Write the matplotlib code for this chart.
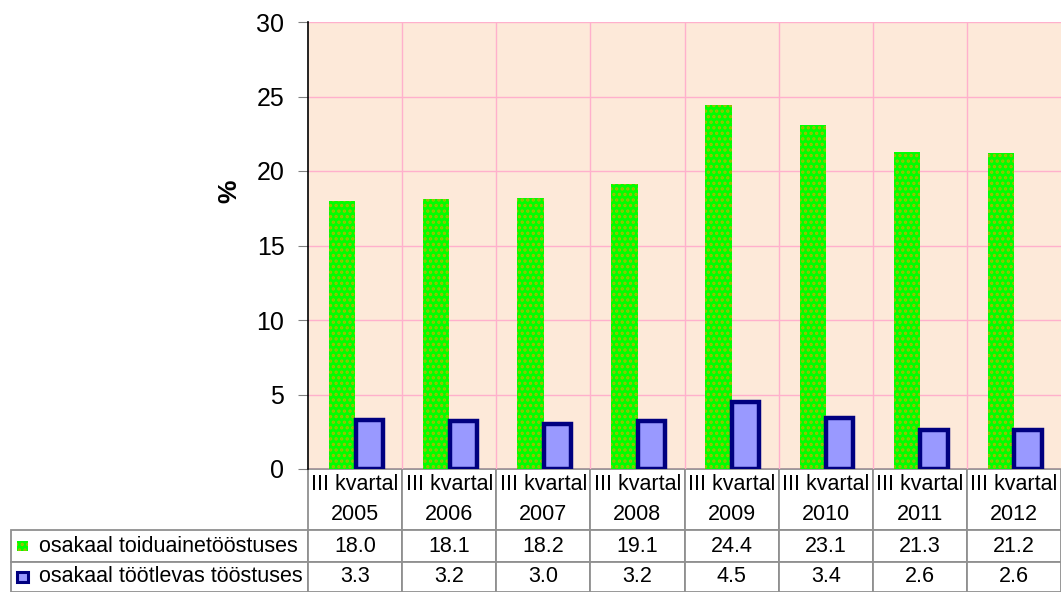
import matplotlib.pyplot as plt
from matplotlib.patches import Rectangle

plt.rcParams['font.family'] = ['Liberation Sans', 'DejaVu Sans']
plt.rcParams['hatch.linewidth'] = 1.6

years = ['2005', '2006', '2007', '2008', '2009', '2010', '2011', '2012']
food_share = [18.0, 18.1, 18.2, 19.1, 24.4, 23.1, 21.3, 21.2]
manuf_share = [3.3, 3.2, 3.0, 3.2, 4.5, 3.4, 2.6, 2.6]
series_names = ['osakaal toiduainetööstuses', 'osakaal töötlevas tööstuses']
col_labels = ['III kvartal\n' + y for y in years]

W, H = 1061, 592
fig = plt.figure(figsize=(W / 100, H / 100), dpi=100)
ax = fig.add_axes([308 / W, 123 / H, 753 / W, 447 / H])

x = list(range(len(years)))
ax.set_facecolor('#fde9d9')
ax.bar([i - 0.138 for i in x], food_share, width=0.28, color='#00ff00',
       edgecolor='#a0c000', linewidth=0, hatch='...', zorder=3)
ax.bar([i + 0.15 for i in x], manuf_share, width=0.29, color='#9999ff',
       edgecolor='#000080', linewidth=3.2, zorder=4)

ax.set_xlim(-0.5, len(years) - 0.5)
ax.set_ylim(0, 30)
ax.set_yticks(range(0, 31, 5))
ax.set_xticks([i + 0.5 for i in x[:-1]])
ax.set_xticklabels([])
ax.tick_params(axis='x', length=0)
ax.tick_params(axis='y', labelsize=18, length=7, direction='out', color='#808080', pad=10)
ax.grid(True, color='#ffb0cc', linewidth=1, zorder=0)
for s in ['top', 'right', 'bottom']:
    ax.spines[s].set_visible(False)
ax.spines['left'].set_linewidth(1.2)
ax.set_ylabel('%', fontsize=19, fontweight='bold')
ax.yaxis.set_label_coords(-0.088, 0.622)

# data table under the axes
rows = [[series_names[0]] + ['%.1f' % v for v in food_share],
        [series_names[1]] + ['%.1f' % v for v in manuf_share]]
x0 = (11 - 308) / 753
tbl_h = (592 - 469) / 447
tbl = ax.table(cellText=rows, colLabels=[''] + col_labels,
               cellLoc='center', bbox=[x0, -tbl_h, 1 - x0, tbl_h])
tbl.auto_set_font_size(False)
tbl.set_fontsize(15.5)
lab_w = -x0
col_w = 1 / len(years)
hdr_h = 61 / 123
r1_h = 32 / 123
r2_h = 30 / 123
for (r, c), cell in tbl.get_celld().items():
    cell.set_edgecolor('#909090')
    cell.set_linewidth(1.3)
    cell.set_width(lab_w if c == 0 else col_w)
    cell.set_height([hdr_h, r1_h, r2_h][r])
    if c == 0:
        cell.get_text().set_ha('left')
        cell.PAD = 0.095
    if r == 0 and c == 0:
        cell.visible_edges = ''
    if r == 0:
        cell.get_text().set_linespacing(1.6)

# legend keys inside the row labels
key_cols = [('#00ff00', '#a0c000', '...'), ('#9999ff', '#000080', None)]
for k, (fc, ec, hatch) in enumerate(key_cols):
    yc = 592 - [546, 577][k]
    rect = Rectangle((17 / W, (yc - 5) / H), 11 / W, 10 / H, transform=fig.transFigure,
                     facecolor=fc, edgecolor=ec, linewidth=0 if hatch else 2.2,
                     hatch=hatch, clip_on=False)
    fig.add_artist(rect)

fig.savefig('out.png', dpi=100)
